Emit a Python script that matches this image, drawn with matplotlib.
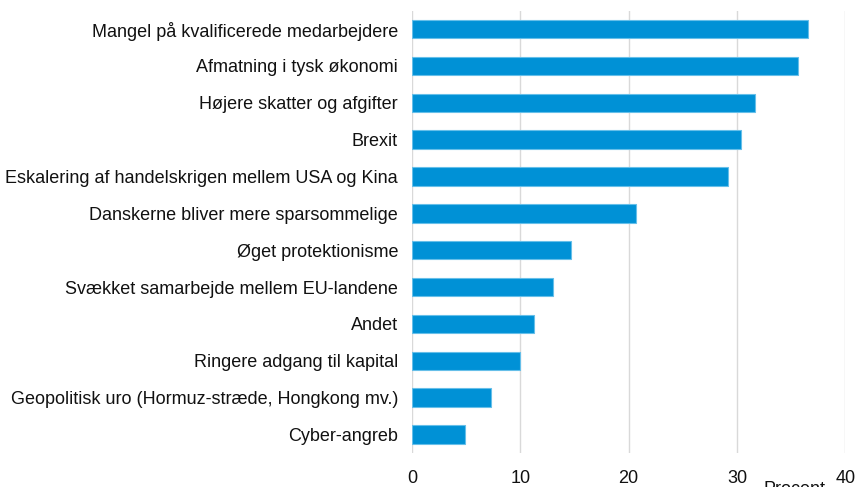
import numpy as np
from matplotlib import pyplot as plt

plt.rcParams['font.family'] = ['Liberation Sans', 'DejaVu Sans']

categories = [
    'Mangel på kvalificerede medarbejdere',
    'Afmatning i tysk økonomi',
    'Højere skatter og afgifter',
    'Brexit',
    'Eskalering af handelskrigen mellem USA og Kina',
    'Danskerne bliver mere sparsommelige',
    'Øget protektionisme',
    'Svækket samarbejde mellem EU-landene',
    'Andet',
    'Ringere adgang til kapital',
    'Geopolitisk uro (Hormuz-stræde, Hongkong mv.)',
    'Cyber-angreb',
]
values = [36.6, 35.6, 31.7, 30.4, 29.2, 20.65, 14.65, 13.0, 11.3, 10.0, 7.3, 4.9]
xticks = [0, 10, 20, 30, 40]

fig = plt.figure(figsize=(8.58, 4.87), dpi=100)
ax = fig.add_axes([0.4802, 0.070, 0.505, 0.908])

y = np.arange(len(categories))
ax.barh(y, values, height=0.5, color='#0091d6', edgecolor='#66bfe9', linewidth=0.8, zorder=3)

ax.set_ylim(len(categories) - 0.5, -0.5)
ax.set_xlim(0, 40)
ax.set_yticks(y)
ax.set_yticklabels(categories, fontsize=13, color='#111111')
ax.set_xticks(xticks)
ax.set_xticklabels([str(t) for t in xticks], fontsize=13, color='#111111')
ax.tick_params(axis='both', length=0)
ax.tick_params(axis='y', pad=10)
ax.tick_params(axis='x', pad=12)

ax.grid(axis='x', color='#d9d9d9', linewidth=1.0, zorder=0)
for s in ax.spines.values():
    s.set_visible(False)

# "Procent" sits under the axis, partly below the figure edge as in the original
fig.text(0.926, -0.022, 'Procent', fontsize=13, ha='center', va='bottom', color='#111111')

plt.savefig('out.png', dpi=100)
plt.close()
